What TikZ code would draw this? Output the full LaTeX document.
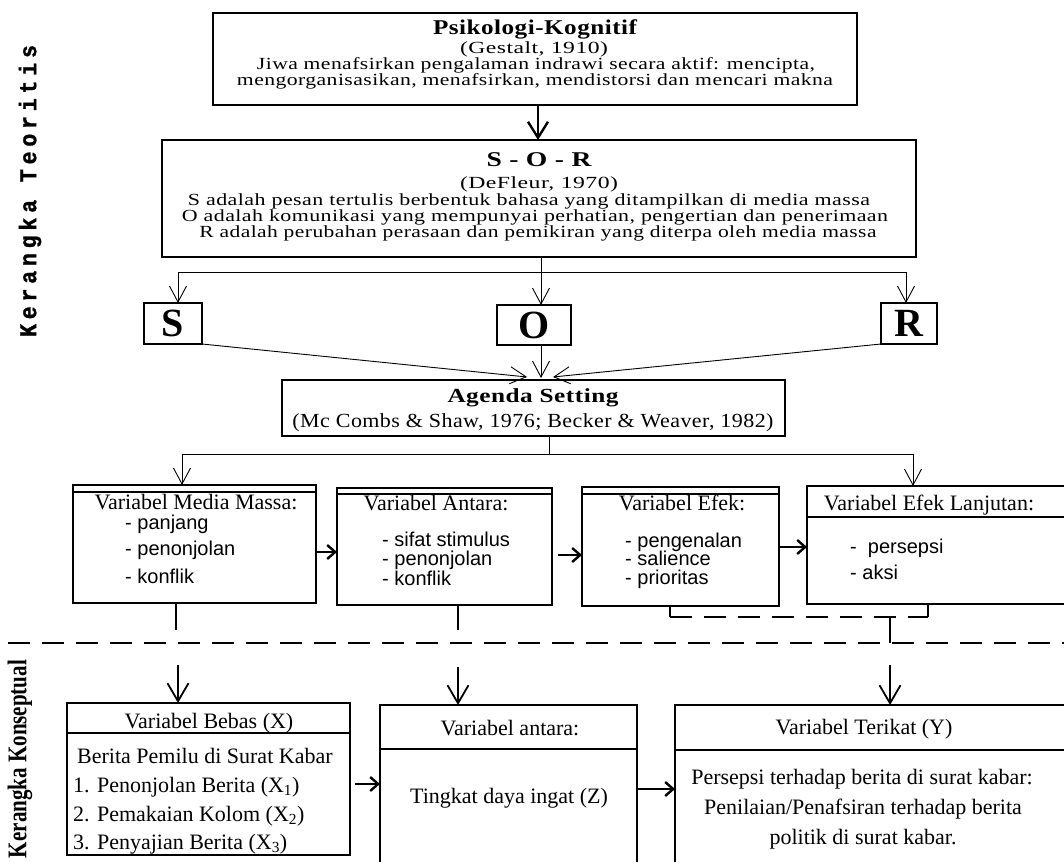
\documentclass[tikz,border=0pt]{standalone}
\usepackage{graphicx}
\usepackage{fontspec}
\setmainfont{Liberation Serif}
\newfontfamily\tsp[LetterSpace=2]{Liberation Serif}
\newfontfamily\bulf{Liberation Sans}
\newfontfamily\monob[LetterSpace=22,FakeBold=1.2]{Liberation Mono}
\usetikzlibrary{arrows.meta}
\newcommand{\fitw}[2]{\resizebox{#1}{\height}{#2}}
\newcommand{\fsz}[1]{\fontsize{#1}{#1}\selectfont}
\tikzset{
  boxa/.style={draw, line width=2pt, inner sep=0pt, outer sep=0pt, anchor=north west},
  boxb/.style={draw, line width=1.4pt, inner sep=0pt, outer sep=0pt, anchor=north west},
  txt/.style={inner sep=0pt, anchor=base},
  txl/.style={inner sep=0pt, anchor=base west},
  thinl/.style={line width=0.9pt},
  thickl/.style={line width=2.4pt},
  dline/.style={line width=2.6pt, dash pattern=on 22pt off 12pt},
  tarr/.style={line width=0.9pt, -{Straight Barb[length=16pt,width=17pt,line width=0.9pt]}},
  barr/.style={line width=2.4pt, -{Straight Barb[length=8pt,width=14pt,line width=2.4pt]}},
  darr/.style={line width=1.8pt, -{Straight Barb[length=18pt,width=21pt,line width=1.8pt]}},
}
\begin{document}
\begin{tikzpicture}[x=1pt,y=-1pt]
\useasboundingbox (0,0) rectangle (1064,861);
\clip (0,0) rectangle (1064,861);
\fill[white] (0,0) rectangle (1064,861);

% side labels
\node[rotate=90, inner sep=0pt] (kt) at (30,191) {\monob\bfseries\fsz{24}\fitw{292pt}{Kerangka~Teoritis}};
\node[rotate=90, inner sep=0pt] (kk) at (20,759) {\bfseries\fsz{27}\fitw{198pt}{Kerangka Konseptual}};

% Psikologi-Kognitif
\node[boxa, minimum width=644pt, minimum height=92pt] (psy) at (213,13) {};
\node[txt] (psyA) at (535,35) {\tsp\bfseries\fsz{21}\fitw{204pt}{Psikologi-Kognitif}};
\node[txt] (psyB) at (534,54) {\tsp\fsz{17}\fitw{148pt}{(Gestalt, 1910)}};
\node[txt] (psyC) at (536,70) {\tsp\fsz{17}\fitw{558pt}{Jiwa menafsirkan pengalaman indrawi secara aktif: mencipta,}};
\node[txt] (psyD) at (535,86) {\tsp\fsz{17}\fitw{596pt}{mengorganisasikan, menafsirkan, mendistorsi dan mencari makna}};

% S-O-R
\node[boxa, minimum width=754pt, minimum height=117pt] (sor) at (162,140) {};
\node[txt] (sorA) at (539,167) {\tsp\bfseries\fsz{21}\fitw{105pt}{S - O - R}};
\node[txt] (sorB) at (539,189) {\tsp\fsz{17}\fitw{158pt}{(DeFleur, 1970)}};
\node[txt] (sorC) at (529,205) {\tsp\fsz{17}\fitw{682pt}{S adalah pesan tertulis berbentuk bahasa yang ditampilkan di media massa}};
\node[txt] (sorD) at (535,221) {\tsp\fsz{17}\fitw{706pt}{O adalah komunikasi yang mempunyai perhatian, pengertian dan penerimaan}};
\node[txt] (sorE) at (538,237) {\tsp\fsz{17}\fitw{677pt}{R adalah perubahan perasaan dan pemikiran yang diterpa oleh media massa}};

% S O R boxes
\node[boxa, minimum width=58pt, minimum height=41pt] (S) at (144,303) {};
\node[inner sep=0pt] (Sl) at (S.center) {\bfseries\fsz{40}S};
\node[boxa, minimum width=74pt, minimum height=40pt] (O) at (497,305) {};
\node[inner sep=0pt] (Ol) at (O.center) {\bfseries\fsz{40}O};
\node[boxa, minimum width=56pt, minimum height=41pt] (R) at (881,303) {};
\node[inner sep=0pt] (Rl) at (R.center) {\bfseries\fsz{40}R};

% Agenda Setting
\node[boxb, minimum width=503pt, minimum height=56pt] (agenda) at (282,380) {};
\node[txt] (agA) at (533,402) {\tsp\bfseries\fsz{20}\fitw{171pt}{Agenda Setting}};
\node[txt] (agB) at (533,427) {\tsp\fsz{20}\fitw{481pt}{(Mc Combs \& Shaw, 1976; Becker \& Weaver, 1982)}};

% row of variable boxes
\node[boxb, minimum width=243pt, minimum height=118pt] (media) at (73,485) {};
\draw[line width=1.2pt] (73,492) -- (316,492);
\node[txt] (mediaH) at (196,509) {\fsz{22}Variabel Media Massa:};
\node[txl] (media1) at (125,529) {\bulf\fsz{20}- panjang};
\node[txl] (media2) at (125,555) {\bulf\fsz{20}- penonjolan};
\node[txl] (media3) at (125,583) {\bulf\fsz{20}- konflik};

\node[boxb, minimum width=215pt, minimum height=117pt] (antara) at (337,488) {};
\draw[line width=1.2pt] (337,494) -- (552,494);
\node[txt] (antaraH) at (436,510) {\fsz{22}Variabel Antara:};
\node[txl] (antara1) at (382,546) {\bulf\fsz{20}- sifat stimulus};
\node[txl] (antara2l) at (382,565) {\bulf\fsz{20}- penonjolan};
\node[txl] (antara3) at (382,585) {\bulf\fsz{20}- konflik};

\node[boxb, minimum width=197pt, minimum height=119pt] (efek) at (582,487) {};
\draw[line width=1.2pt] (582,494) -- (779,494);
\node[txt] (efekH) at (682,510) {\fsz{22}Variabel Efek:};
\node[txl] (efek1) at (625,547) {\bulf\fsz{20}- pengenalan};
\node[txl] (efek2) at (625,565) {\bulf\fsz{20}- salience};
\node[txl] (efek3) at (625,584) {\bulf\fsz{20}-~prioritas};

\node[boxb, minimum width=263pt, minimum height=118pt] (lanj) at (807,486) {};
\draw[line width=1.4pt] (807,517) -- (1070,517);
\node[txt] (lanjH) at (929,510) {\fsz{22}Variabel Efek Lanjutan:};
\node[txl] (lanj1) at (850,553) {\bulf\fsz{20}-~~persepsi};
\node[txl] (lanj2) at (850,579) {\bulf\fsz{20}- aksi};

% conceptual boxes
\node[boxb, minimum width=283pt, minimum height=152pt] (bebas) at (67,703) {};
\draw[line width=1.4pt] (67,733) -- (350,733);
\node[txt] (bebasH) at (209,728) {\fsz{22}Variabel Bebas (X)};
\node[txl] (bebas1) at (77,763) {\fsz{22}Berita Pemilu di Surat Kabar};
\node[txl] (bebas2) at (73,792) {\fsz{22}1. Penonjolan Berita (X\textsubscript{1})};
\node[txl] (bebas3) at (73,821) {\fsz{22}2. Pemakaian Kolom (X\textsubscript{2})};
\node[txl] (bebas4) at (73,849) {\fsz{22}3. Penyajian Berita (X\textsubscript{3})};

\node[boxb, minimum width=257pt, minimum height=170pt] (antarab) at (380,705) {};
\draw[line width=1.4pt] (380,749) -- (637,749);
\node[txt] (antarabH) at (510,735) {\fsz{22}Variabel antara:};
\node[txt] (antarab1) at (509,803) {\fsz{22}Tingkat daya ingat (Z)};

\node[boxb, minimum width=400pt, minimum height=170pt] (terikat) at (675,705) {};
\draw[line width=1.4pt] (675,750) -- (1075,750);
\node[txt] (terikatH) at (864,734) {\fsz{22}Variabel Terikat (Y)};
\node[txt] (terikat1) at (862,784) {\fsz{22}Persepsi terhadap berita di surat kabar:};
\node[txt] (terikat2) at (863,814) {\fsz{22}Penilaian/Penafsiran terhadap berita};
\node[txt] (terikat3) at (863,844) {\fsz{22}politik di surat kabar.};

% coordinates
\coordinate (psyx) at (538,0);
\coordinate (jS) at (178,272);
\coordinate (jO) at (541,272);
\coordinate (jR) at (906,272);
\coordinate (aS) at (527,377);
\coordinate (aO) at (541,378);
\coordinate (aR) at (553,377);
\coordinate (jA) at (549,454);
\coordinate (jM) at (182,454);
\coordinate (jL) at (913,454);
\coordinate (r1) at (0,552);
\coordinate (r2s) at (558,555);
\coordinate (r3) at (0,547);
\coordinate (b1) at (176,630);
\coordinate (b2) at (458,630);
\coordinate (k1) at (670,617);
\coordinate (k2) at (928,617);
\coordinate (k3) at (890,617);
\coordinate (k4) at (890,643);
\coordinate (div1) at (8,643);
\coordinate (div2) at (1070,643);
\coordinate (c1) at (178,665);
\coordinate (c2) at (458,667);
\coordinate (c3) at (890,665);
\coordinate (d1) at (355,784);
\coordinate (d2) at (0,789);

% connectors
\draw[line width=2.6pt, -{Straight Barb[length=16pt,width=20pt,line width=2.4pt]}] (psy.south -| psyx) -- (sor.north -| psyx);
\draw[thinl] (jS) -- (jR);
\draw[tarr] (jS) -- (S.north -| jS);
\draw[tarr] (jR) -- (R.north -| jR);
\draw[tarr] (sor.south -| jO) -- (O.north -| jO);
\draw[tarr] (S.south east) -- (aS);
\draw[tarr] (O.south -| aO) -- (aO);
\draw[tarr] (R.south west) -- (aR);
\draw[thinl] (agenda.south -| jA) -- (jA);
\draw[thinl] (jM) -- (jL);
\draw[tarr] (jM) -- (media.north -| jM);
\draw[tarr] (jL) -- (lanj.north -| jL);
\draw[barr] (media.east |- r1) -- (antara.west |- r1);
\draw[barr] (r2s) -- (efek.west |- r2s);
\draw[barr] (efek.east |- r3) -- (lanj.west |- r3);
\draw[thickl] (media.south -| b1) -- (b1);
\draw[thickl] (antara.south -| b2) -- (b2);
\draw[thickl] (efek.south -| k1) -- (k1);
\draw[dline] (k1) -- (k2);
\draw[thickl] (k2) -- (lanj.south -| k2);
\draw[thickl] (k3) -- (k4);
\draw[dline] (div1) -- (div2);
\draw[darr] (c1) -- (bebas.north -| c1);
\draw[darr] (c2) -- (antarab.north -| c2);
\draw[darr] (c3) -- (terikat.north -| c3);
\draw[barr] (d1) -- (antarab.west |- d1);
\draw[barr] (antarab.east |- d2) -- (terikat.west |- d2);
\end{tikzpicture}
\end{document}
